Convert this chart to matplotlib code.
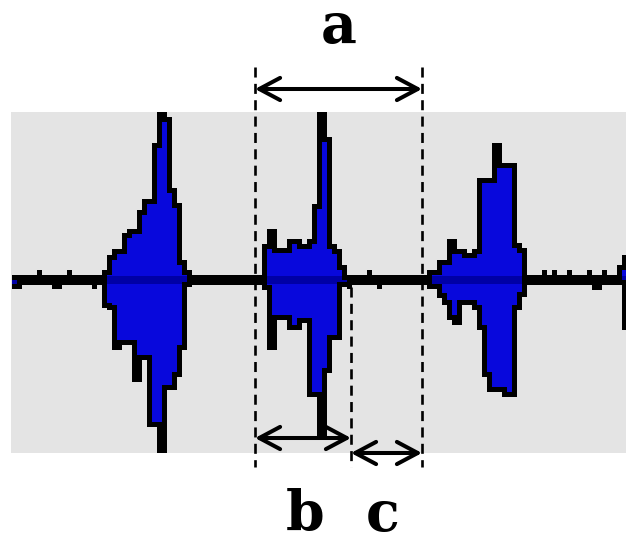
import numpy as np
import matplotlib
matplotlib.use("Agg")
import matplotlib.pyplot as plt
from matplotlib.patches import FancyArrowPatch, ArrowStyle

# ---- data: waveform envelope per sample column (amplitude units) ----
upper = [5, 5, 5, 5, 5, 10, 5, 5, 5, 5, 5, 10, 5, 5, 5, 5, 5, 5,
         10, 25, 31, 31, 47, 51, 51, 70, 81, 81, 137, 168, 168, 163, 92, 77, 20, 10,
         5, 5, 5, 5, 5, 5, 5, 5, 5, 5, 5, 5, 5, 5,
         36, 51, 51, 32, 32, 41, 41, 41, 36, 41, 76, 168, 168, 143, 36, 31, 15,
         5, 5, 5, 5, 10, 5, 5, 5, 5, 5, 5, 5, 5, 5, 5, 5, 10, 10,
         20, 20, 41, 41, 31, 31, 27, 31, 102, 102, 102, 137, 137, 117, 117, 117, 37, 32,
         5, 5, 5, 10, 5, 10, 5, 5, 10, 5, 5, 5, 10, 5, 5, 10, 5, 5, 15, 25]
lower = [9, 9, 5, 5, 5, 5, 5, 5, 9, 9, 5, 5, 5, 5, 5, 5, 9, 5,
         28, 30, 70, 70, 65, 65, 102, 102, 80, 147, 147, 173, 173, 110, 110, 97, 70, 7,
         5, 5, 5, 5, 5, 5, 5, 5, 5, 5, 5, 5, 5, 5,
         10, 70, 70, 40, 40, 50, 50, 50, 43, 117, 117, 157, 157, 93, 60, 60, 7,
         9, 5, 5, 5, 5, 5, 9, 5, 5, 5, 5, 5, 5, 5, 5, 5, 9, 9,
         18, 25, 40, 45, 45, 25, 25, 30, 50, 97, 112, 112, 112, 117, 117, 117, 30, 17,
         5, 5, 5, 5, 5, 5, 5, 5, 5, 5, 5, 5, 5, 10, 10, 5, 5, 5, 5, 50]

# interval markers (in sample-column units)
t_a_start = 48.66
t_b_end = 67.86
t_a_end = 82.06
labels = ["a", "b", "c"]

up = np.array(upper, dtype=float)
dn = np.array(lower, dtype=float)
edges = np.arange(len(up) + 1)

fig = plt.figure(figsize=(6.26, 5.43), dpi=100)
ax = fig.add_axes([11 / 626, (543 - 453) / 543, 615 / 626, (453 - 112) / 543])
ax.set_facecolor("#e4e4e4")
for s in ax.spines.values():
    s.set_visible(False)
ax.set_xticks([])
ax.set_yticks([])
ax.set_xlim(-0.14, 122.86)
ax.set_ylim(-173, 168)

# black outline envelope
ax.stairs(up, edges, baseline=-dn, fill=True, color="black", zorder=2)

# blue interior (inset by one outline block)
pad_up = np.concatenate([[up[0]], up, [up[-1]]])
pad_dn = np.concatenate([[dn[0]], dn, [dn[-1]]])
in_up = np.maximum(np.minimum(np.minimum(pad_up[:-2], pad_up[1:-1]), pad_up[2:]) - 5, 0)
in_dn = np.maximum(np.minimum(np.minimum(pad_dn[:-2], pad_dn[1:-1]), pad_dn[2:]) - 5, 0)
ax.stairs(in_up, edges, baseline=-in_dn, fill=True, color="#0808dc", zorder=3)
core_up = np.minimum(in_up, 4)
core_dn = np.minimum(in_dn, 4)
ax.stairs(core_up, edges, baseline=-core_dn, fill=True, color="#0000a6", zorder=3)

# dashed guide lines
dash_kw = dict(color="black", lw=1.9, dashes=[3.8, 2.4], clip_on=False, zorder=5)
ax.plot([t_a_start, t_a_start], [213, -187], **dash_kw)
ax.plot([t_a_end, t_a_end], [213, -187], **dash_kw)
ax.plot([t_b_end, t_b_end], [-7, -187], **dash_kw)

style = ArrowStyle("<->", head_length=15, head_width=8)
for (x0, x1, y) in [(t_a_start, t_a_end, 191), (t_a_start, t_b_end, -158), (t_b_end, t_a_end, -173)]:
    arr = FancyArrowPatch((x0, y), (x1, y), arrowstyle=style, mutation_scale=1,
                          lw=2.9, color="black", shrinkA=0, shrinkB=0,
                          clip_on=False, zorder=6, capstyle="round", joinstyle="round")
    ax.add_patch(arr)

font = dict(family="DejaVu Serif", weight="bold", fontsize=40, ha="center", va="baseline")
fig.text(339 / 626, 1 - 43 / 543, labels[0], **font)
fig.text(305 / 626, 1 - 531 / 543, labels[1], **font)
fig.text(383 / 626, 1 - 531 / 543, labels[2], **font)

fig.savefig("out.png", dpi=100)
